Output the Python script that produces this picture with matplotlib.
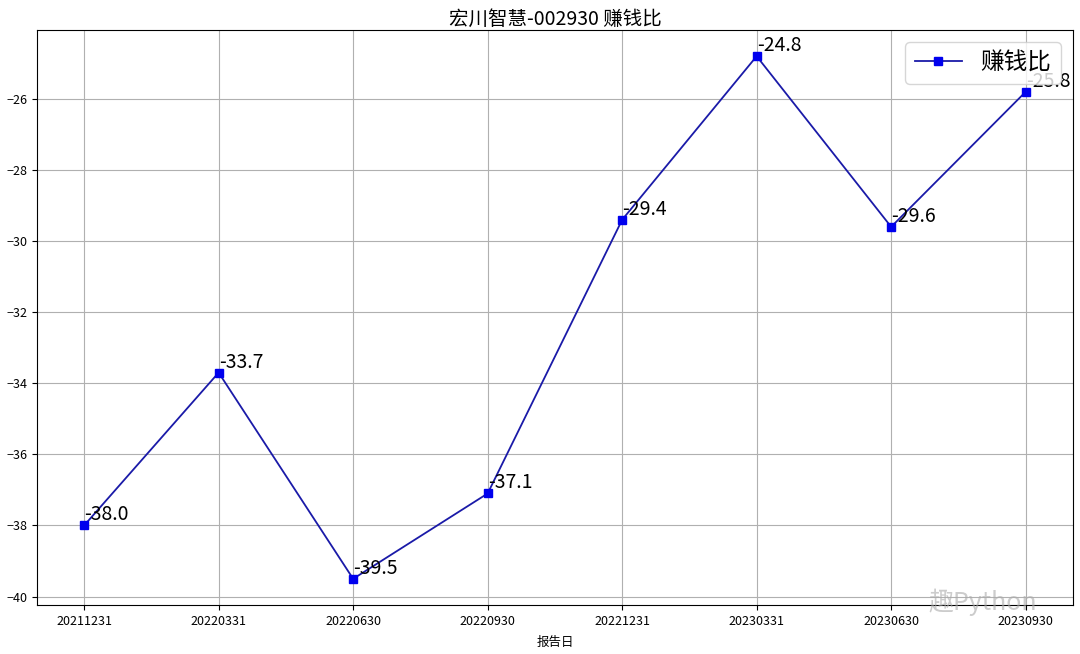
import matplotlib
matplotlib.use("Agg")
import matplotlib.pyplot as plt

plt.rcParams['font.family'] = ['Noto Sans CJK SC', 'DejaVu Sans']
plt.rcParams['axes.unicode_minus'] = True

dates = ["20211231", "20220331", "20220630", "20220930", "20221231", "20230331", "20230630", "20230930"]
values = [-38.0, -33.7, -39.5, -37.1, -29.4, -24.8, -29.6, -25.8]
title = "宏川智慧-002930 赚钱比"
series_name = "赚钱比"
xlabel = "报告日"

fig = plt.figure(figsize=(10.8, 6.54), dpi=100)
ax = fig.add_axes([0.0343, 0.075, 0.959, 0.879])

ax.plot(dates, values, color='#1a1aa8', linewidth=1.3, marker='s', markersize=6,
        markerfacecolor='#0000ee', markeredgecolor='#0000ee', label=series_name)
for d, v in zip(dates, values):
    ax.text(d, v, f"{v:.1f}", fontsize=14, color='black', va='bottom')

ax.set_title(title, fontsize=14, pad=3)
ax.set_xlabel(xlabel, fontsize=9, labelpad=6)
ax.tick_params(axis='both', labelsize=9)
ax.grid(True, color='#b0b0b0', linewidth=0.8)
ax.legend(loc='upper right', fontsize=17)

fig.text(0.86, 0.068, "趣Python", fontsize=18, color='#aaaaaa', alpha=0.6)

fig.savefig("out.png", dpi=100)
